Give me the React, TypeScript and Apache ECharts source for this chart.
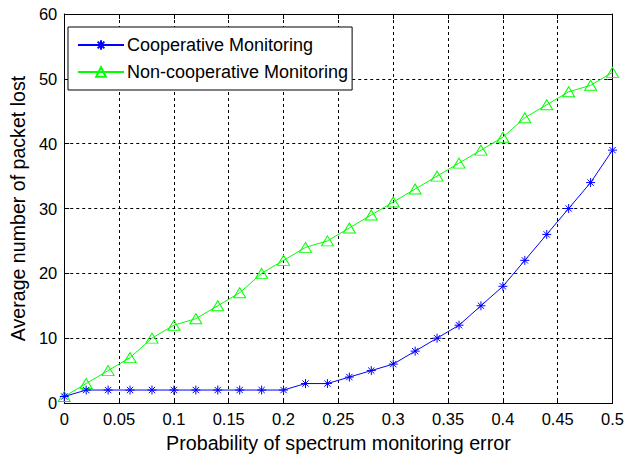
import React, { useEffect, useRef } from "react";
import * as echarts from "echarts";

const xValues = [0, 0.02, 0.04, 0.06, 0.08, 0.1, 0.12, 0.14, 0.16, 0.18, 0.2, 0.22, 0.24, 0.26, 0.28, 0.3, 0.32, 0.34, 0.36, 0.38, 0.4, 0.42, 0.44, 0.46, 0.48, 0.5];
const cooperative = [1, 2, 2, 2, 2, 2, 2, 2, 2, 2, 2, 3, 3, 4, 5, 6, 8, 10, 12, 15, 18, 22, 26, 30, 34, 39];
const nonCooperative = [1, 3, 5, 7, 10, 12, 13, 15, 17, 20, 22, 24, 25, 27, 29, 31, 33, 35, 37, 39, 41, 44, 46, 48, 49, 51];
const seriesNames = ["Cooperative Monitoring", "Non-cooperative Monitoring"];
const xTitle = "Probability of spectrum monitoring error";
const yTitle = "Average number of packet lost";

const FONT = "'Liberation Sans', Arial, Helvetica, sans-serif";
const ASTERISK = "path://M0,-10L0,10M-10,0L10,0M-7,-7L7,7M-7,7L7,-7";

export default function App() {
  const ref = useRef<HTMLDivElement>(null);
  useEffect(() => {
    if (!ref.current) return;
    const chart = echarts.init(ref.current, null, { renderer: "svg" });
    const axisCommon = {
      axisLine: { show: true, onZero: false, lineStyle: { color: "#000", width: 1 } },
      axisTick: { show: true, inside: true, length: 5, lineStyle: { color: "#000" } },
      axisLabel: { color: "#000", fontSize: 16.5, fontFamily: FONT },
    };
    chart.setOption({
      animation: false,
      backgroundColor: "#fff",
      grid: { left: 62, right: 10, top: 14, bottom: 56, show: false },
      legend: {
        orient: "vertical",
        left: 68,
        top: 27,
        itemWidth: 46,
        itemHeight: 12,
        itemGap: 7,
        padding: [8, 4, 8, 9],
        backgroundColor: "#fff",
        borderColor: "#000",
        borderWidth: 1,
        textStyle: { color: "#000", fontSize: 18, fontFamily: FONT, lineHeight: 20, padding: [0, 0, 0, -2] },
        data: seriesNames,
      },
      xAxis: [
        {
          type: "value",
          min: 0,
          max: 0.5,
          interval: 0.05,
          name: xTitle,
          nameLocation: "middle",
          nameGap: 30,
          nameTextStyle: { color: "#000", fontSize: 19.7, fontFamily: FONT },
          ...axisCommon,
          axisLabel: { ...axisCommon.axisLabel, margin: 7 },
          splitLine: { show: true, lineStyle: { color: "#000", type: [3, 3], width: 1 } },
        },
        {
          type: "value",
          position: "top",
          min: 0,
          max: 0.5,
          interval: 0.05,
          ...axisCommon,
          axisLabel: { show: false },
          splitLine: { show: false },
        },
      ],
      yAxis: [
        {
          type: "value",
          min: 0,
          max: 60,
          interval: 10,
          name: yTitle,
          nameLocation: "middle",
          nameGap: 34,
          nameTextStyle: { color: "#000", fontSize: 19.6, fontFamily: FONT },
          ...axisCommon,
          axisLabel: { ...axisCommon.axisLabel, margin: 7 },
          splitLine: { show: true, lineStyle: { color: "#000", type: [3, 3], width: 1 } },
        },
        {
          type: "value",
          position: "right",
          min: 0,
          max: 60,
          interval: 10,
          ...axisCommon,
          axisLabel: { show: false },
          splitLine: { show: false },
        },
      ],
      series: [
        {
          name: seriesNames[0],
          type: "line",
          data: xValues.map((x, i) => [x, cooperative[i]]),
          symbol: ASTERISK,
          symbolSize: 9,
          showAllSymbol: true,
          lineStyle: { color: "#0000ff", width: 1 },
          itemStyle: { color: "#0000ff", borderColor: "#0000ff", borderWidth: 1 },
          z: 3,
        },
        {
          name: seriesNames[1],
          type: "line",
          data: xValues.map((x, i) => [x, nonCooperative[i]]),
          symbol: "triangle",
          symbolSize: [12, 10],
          showAllSymbol: true,
          lineStyle: { color: "#00ff00", width: 1 },
          itemStyle: { color: "rgba(0,0,0,0)", borderColor: "#00ff00", borderWidth: 1 },
          z: 2,
        },
      ],
    });
    return () => chart.dispose();
  }, []);
  return (
    <div
      ref={ref}
      style={{ position: "fixed", left: 0, top: 0, width: 627, height: 459, background: "#fff" }}
    />
  );
}
